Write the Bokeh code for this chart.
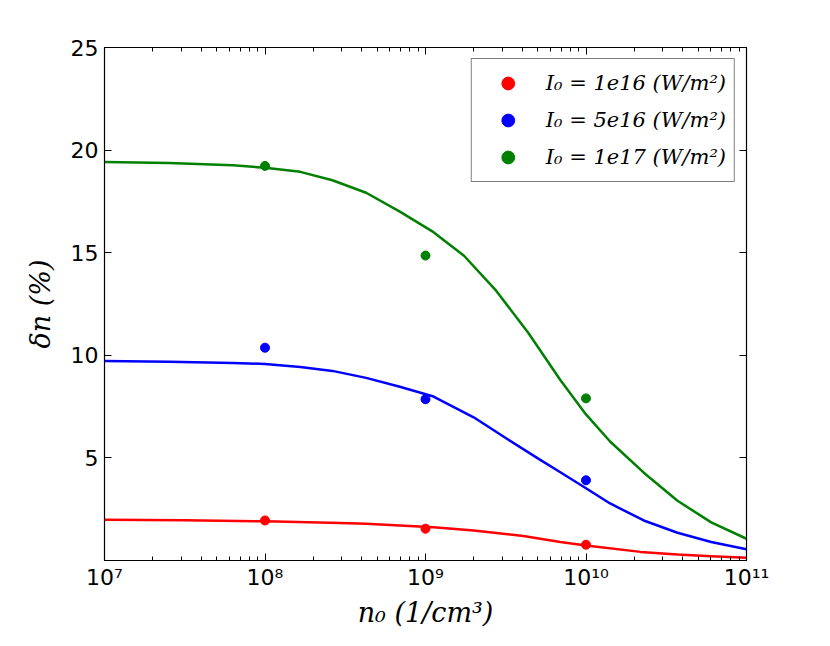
from bokeh.plotting import figure
from bokeh.models import Range1d, FixedTicker, LogAxis, LinearAxis, Legend, LegendItem
from bokeh.embed import file_html
from bokeh.resources import INLINE

# ---- measured data points ----
n0_points = [1e8, 1e9, 1e10]
dn_1e16 = [1.95, 1.55, 0.77]
dn_5e16 = [10.37, 7.86, 3.91]
dn_1e17 = [19.23, 14.86, 7.90]

# ---- fitted curves (log10 n0, delta n) ----
red_log_n0 = [7.0, 7.5, 8.0, 8.47, 8.63, 9.05, 9.3, 9.61, 9.84, 10.0, 10.34, 10.57, 10.78, 11.0]
red_dn = [1.98, 1.96, 1.91, 1.83, 1.79, 1.62, 1.46, 1.19, 0.90, 0.73, 0.42, 0.29, 0.21, 0.13]

blue_log_n0 = [7.0, 7.4, 7.8, 8.0, 8.22, 8.42, 8.63, 8.84, 9.05, 9.3, 9.5, 9.71, 9.84, 10.0,
               10.15, 10.36, 10.57, 10.78, 11.0]
blue_dn = [9.72, 9.69, 9.63, 9.58, 9.43, 9.24, 8.90, 8.47, 7.99, 6.98, 5.97, 4.93, 4.30, 3.52,
           2.78, 1.95, 1.35, 0.90, 0.55]

green_log_n0 = [7.0, 7.4, 7.8, 8.0, 8.22, 8.42, 8.63, 8.84, 9.05, 9.24, 9.44, 9.64, 9.84, 10.0,
                10.15, 10.36, 10.57, 10.78, 11.0]
green_dn = [19.42, 19.37, 19.26, 19.14, 18.94, 18.53, 17.92, 17.00, 16.00, 14.85, 13.15, 11.10,
            8.80, 7.12, 5.80, 4.28, 2.91, 1.86, 1.06]

labels = ["I\u2080 = 1e16 (W/m\u00b2)", "I\u2080 = 5e16 (W/m\u00b2)", "I\u2080 = 1e17 (W/m\u00b2)"]
colors = ["#ff0000", "#0000ff", "#008000"]

x_ticks = [1e7, 1e8, 1e9, 1e10, 1e11]
x_tick_labels = ["10\u2077", "10\u2078", "10\u2079", "10\u00b9\u2070", "10\u00b9\u00b9"]
y_ticks = [5, 10, 15, 20, 25]
x_minor = [m * 10 ** e for e in range(7, 11) for m in range(2, 10)]

p = figure(width=814, height=630, output_backend="svg", toolbar_location=None,
           x_axis_type="log", x_range=Range1d(1e7, 1e11), y_range=Range1d(0, 25),
           min_border_left=104, min_border_right=68, min_border_top=47, min_border_bottom=65)
p.grid.visible = False
p.outline_line_color = "black"
p.outline_line_width = 1.2
p.background_fill_color = "white"
p.border_fill_color = "white"

series = [
    (red_log_n0, red_dn, dn_1e16),
    (blue_log_n0, blue_dn, dn_5e16),
    (green_log_n0, green_dn, dn_1e17),
]
items = []
for (lx, ly, pts), col, lab in zip(series, colors, labels):
    p.line([10 ** v for v in lx], ly, line_color=col, line_width=2.5, line_join="round")
    r = p.scatter(n0_points, pts, size=9, fill_color=col, line_color=col, marker="circle")
    items.append(LegendItem(label=lab, renderers=[r]))

tick_font = "DejaVu Sans"
xa = p.xaxis[0]
xa.ticker = FixedTicker(ticks=x_ticks, minor_ticks=x_minor)
xa.major_label_overrides = {int(t): s for t, s in zip(x_ticks, x_tick_labels)}
ya = p.yaxis[0]
ya.ticker = FixedTicker(ticks=y_ticks)

for ax in (xa, ya):
    ax.major_tick_in = 7
    ax.major_tick_out = 0
    ax.minor_tick_in = 4
    ax.minor_tick_out = 0
    ax.major_label_text_font = tick_font
    ax.major_label_text_font_size = "22px"
    ax.major_label_text_color = "black"
    ax.axis_line_color = "black"
    ax.axis_label_text_font = "DejaVu Serif"
    ax.axis_label_text_font_style = "italic"
    ax.axis_label_text_font_size = "27px"
    ax.axis_label_text_color = "black"
ya.minor_tick_line_color = None
xa.axis_label = "n\u2080 (1/cm\u00b3)"
ya.axis_label = "\u03b4n (%)"
xa.major_label_standoff = 4
xa.axis_label_standoff = 4
ya.major_label_standoff = 6
ya.axis_label_standoff = 12

# top axis: ticks only
top_major = LogAxis(ticker=FixedTicker(ticks=[], minor_ticks=x_ticks))
top_minor = LogAxis(ticker=FixedTicker(ticks=[], minor_ticks=x_minor))
for ax, ln in ((top_major, 7), (top_minor, 4)):
    ax.minor_tick_in = ln
    ax.minor_tick_out = 0
    ax.major_tick_in = 0
    ax.major_tick_out = 0
    ax.axis_line_color = "black"
    p.add_layout(ax, "above")
right_ax = LinearAxis(ticker=FixedTicker(ticks=[], minor_ticks=y_ticks))
right_ax.minor_tick_in = 7
right_ax.minor_tick_out = 0
right_ax.major_tick_in = 0
right_ax.major_tick_out = 0
right_ax.axis_line_color = "black"
p.add_layout(right_ax, "right")

legend = Legend(items=items, location="top_right")
legend.margin = 11
legend.padding = 8
legend.spacing = 5
legend.border_line_color = "black"
legend.border_line_width = 1.2
legend.background_fill_alpha = 1.0
legend.label_text_font = "DejaVu Serif"
legend.label_text_font_style = "italic"
legend.label_text_font_size = "21px"
legend.label_text_color = "black"
legend.glyph_width = 56
legend.glyph_height = 32
legend.label_standoff = 10
p.add_layout(legend)

open("out.html", "w").write(file_html(p, INLINE))
